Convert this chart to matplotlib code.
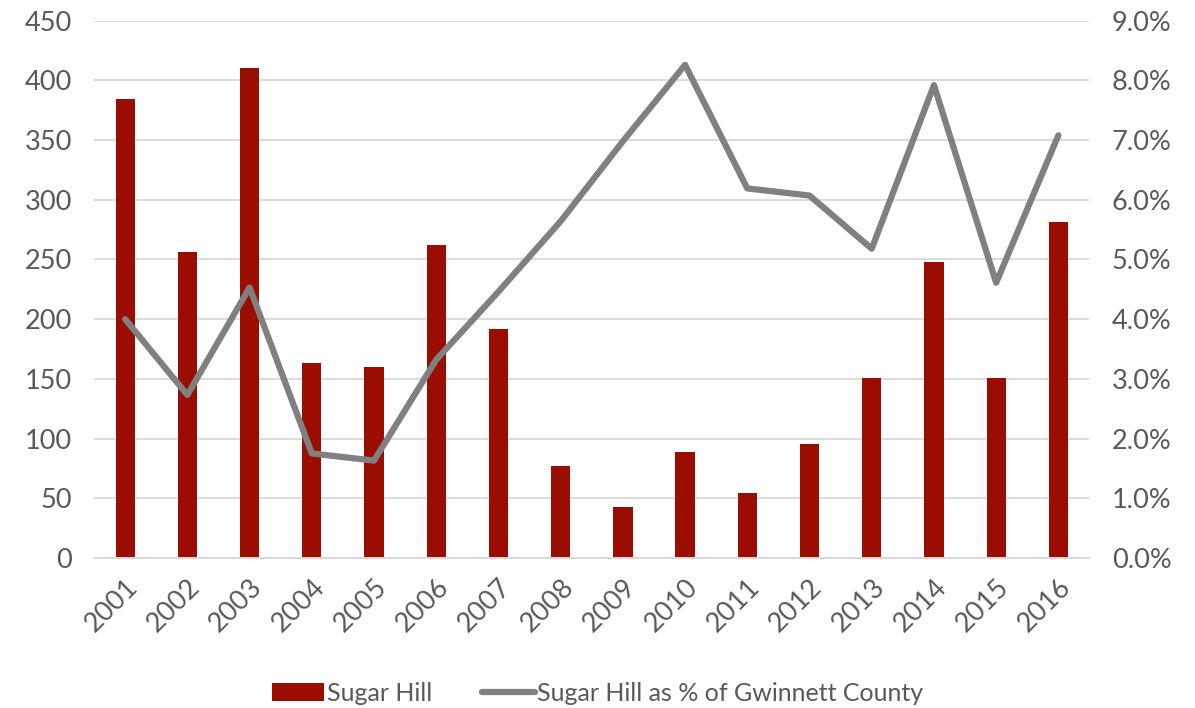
import numpy as np
import matplotlib
matplotlib.use("Agg")
from matplotlib import pyplot as plt
from matplotlib.ticker import PercentFormatter

plt.rcParams['font.family'] = ['Lato', 'DejaVu Sans']

# Données
years = ['2001', '2002', '2003', '2004', '2005', '2006', '2007', '2008',
         '2009', '2010', '2011', '2012', '2013', '2014', '2015', '2016']
sugar_hill = [384, 256, 410, 163, 160, 262, 192, 77,
              43, 89, 54, 95, 151, 248, 151, 281]
pct_gwinnett = [4.0, 2.73, 4.53, 1.75, 1.63, 3.32, 4.46, 5.64,
                6.98, 8.26, 6.19, 6.07, 5.18, 7.92, 4.61, 7.08]

BAR_COLOR = '#9B0D00'
LINE_COLOR = '#808080'
TEXT_COLOR = '#595959'
GRID_COLOR = '#D9D9D9'

fig = plt.figure(figsize=(11.95, 7.08), dpi=100)
ax = fig.add_axes([0.0787, 0.212, 0.833, 0.7588])
ax2 = ax.twinx()

x = np.arange(len(years))
ax.bar(x, sugar_hill, width=0.31, color=BAR_COLOR, label='Sugar Hill', zorder=2)
ax2.plot(x, pct_gwinnett, color=LINE_COLOR, linewidth=4.5,
         solid_capstyle='round', solid_joinstyle='round',
         label='Sugar Hill as % of Gwinnett County')

ax.set_xlim(-0.5, len(years) - 0.5)
ax.set_ylim(0, 450)
ax.set_yticks(np.arange(0, 451, 50))
ax2.set_ylim(0, 9)
ax2.set_yticks(np.arange(0, 9.1, 1))
ax2.yaxis.set_major_formatter(PercentFormatter(decimals=1))

ax.set_xticks(x)
ax.set_xticklabels(years, rotation=45, ha='right', rotation_mode='anchor')

ax.grid(axis='y', color=GRID_COLOR, linewidth=1.3, zorder=0)
ax.set_axisbelow(True)
for a in (ax, ax2):
    for s in ('top', 'left', 'right'):
        a.spines[s].set_visible(False)
    a.spines['bottom'].set_color(GRID_COLOR)
    a.spines['bottom'].set_linewidth(1.3)
    a.tick_params(length=0, labelsize=19.5, colors=TEXT_COLOR)
ax.tick_params(axis='y', pad=16)
ax.tick_params(axis='x', pad=12)
ax2.tick_params(axis='y', pad=16)

h1, l1 = ax.get_legend_handles_labels()
h2, l2 = ax2.get_legend_handles_labels()
fig.legend(h1 + h2, l1 + l2, loc='lower center', bbox_to_anchor=(0.5, -0.027),
           ncol=2, frameon=False, fontsize=18, labelcolor=TEXT_COLOR,
           handlelength=2.1, handletextpad=0.1, columnspacing=2.0)

plt.savefig('out.png', dpi=100)
plt.close()
